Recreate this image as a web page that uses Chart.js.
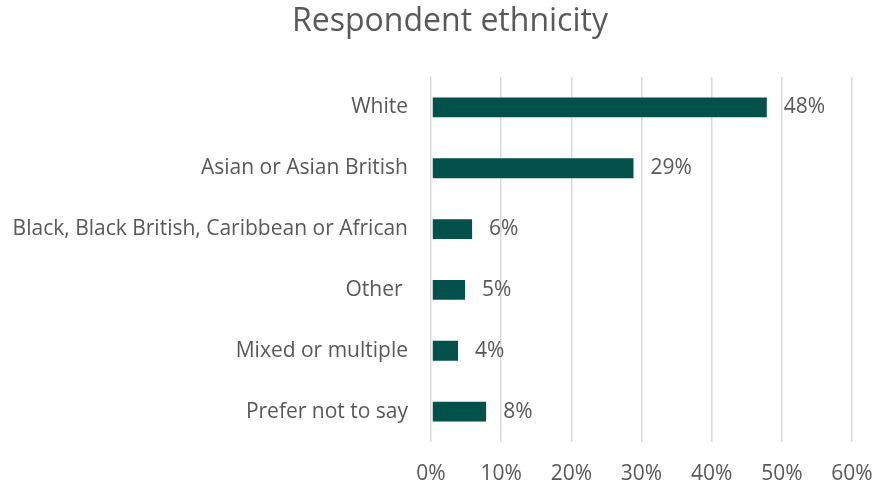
<!DOCTYPE html>
<html>
<head>
<meta charset="utf-8">
<script src="https://cdn.jsdelivr.net/npm/chart.js@4.4.1/dist/chart.umd.min.js"></script>
<style>
  html, body { margin: 0; padding: 0; background: #ffffff; }
  #wrap { width: 876px; height: 485px; }
</style>
</head>
<body>
<div id="wrap"><canvas id="ethnicity"></canvas></div>
<script>
// respondent ethnicity, share of respondents (%)
const categories = [
  'White',
  'Asian or Asian British',
  'Black, Black British, Caribbean or African',
  'Other ',
  'Mixed or multiple',
  'Prefer not to say'
];
const shares = [48, 29, 6, 5, 4, 8];
const xTicks = [0, 10, 20, 30, 40, 50, 60];

const textGrey = '#595959';
const barGreen = '#03514A';
const fontFamily = '"Open Sans", "Liberation Sans", sans-serif';

// writes the "48%" style value just past the end of each bar
const valueLabels = {
  id: 'valueLabels',
  afterDatasetsDraw(chart) {
    const ctx = chart.ctx;
    const meta = chart.getDatasetMeta(0);
    ctx.save();
    ctx.font = '21px ' + fontFamily;
    ctx.fillStyle = textGrey;
    ctx.textAlign = 'left';
    ctx.textBaseline = 'middle';
    meta.data.forEach((bar, i) => {
      ctx.fillText(shares[i] + '%', bar.x + 16, bar.y);
    });
    ctx.restore();
  }
};

// centre the title a bit right of the canvas middle
const titleShift = {
  id: 'titleShift',
  afterLayout(chart) {
    const t = chart.titleBlock;
    if (!t) return;
    t.left = 48;
    t.right = chart.width - 24;
    t.width = t.right - t.left;
  }
};

const ethnicity_elem = document.getElementById('ethnicity');
const ethnicity_chart = new Chart(ethnicity_elem, {
  type: 'bar',
  data: {
    labels: categories,
    datasets: [{
      data: shares,
      backgroundColor: barGreen,
      borderColor: 'rgba(255,255,255,0.7)',
      borderWidth: 1,
      borderSkipped: false,
      categoryPercentage: 1,
      barPercentage: 0.36
    }]
  },
  options: {
    indexAxis: 'y',
    responsive: true,
    maintainAspectRatio: false,
    animation: false,
    layout: { padding: { left: 0, right: 24, top: 0, bottom: 0 } },
    scales: {
      x: {
        min: 0,
        max: 60,
        afterBuildTicks: (scale) => {
          scale.ticks = xTicks.map(v => ({ value: v }));
        },
        afterFit: (scale) => {
          scale.height = 43;
          scale.paddingLeft = 0;
          scale.paddingRight = 0;
        },
        grid: { color: '#d9d9d9', lineWidth: 1.5, drawTicks: false },
        border: { display: false },
        ticks: {
          padding: 19,
          color: textGrey,
          font: { family: fontFamily, size: 21 },
          callback: (v) => v + '%'
        }
      },
      y: {
        afterFit: (scale) => { scale.width = 431; },
        grid: { display: false, drawTicks: false },
        border: { display: false },
        ticks: {
          padding: 23,
          color: textGrey,
          font: { family: fontFamily, size: 21 }
        }
      }
    },
    plugins: {
      legend: { display: false },
      tooltip: { enabled: false },
      title: {
        display: true,
        text: 'Respondent ethnicity',
        color: textGrey,
        font: { family: fontFamily, size: 32, weight: 'normal' },
        padding: { top: 3, bottom: 35.6 }
      }
    }
  },
  plugins: [valueLabels, titleShift]
});
</script>
</body>
</html>
